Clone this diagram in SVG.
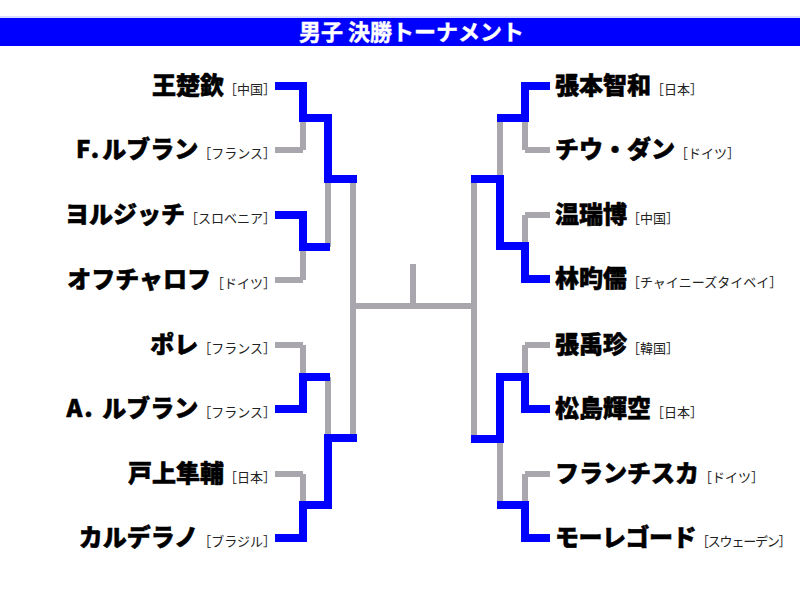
<svg xmlns="http://www.w3.org/2000/svg" width="800" height="600" viewBox="0 0 800 600">
<style>
.nm{font-family:"Noto Sans CJK JP","Noto Sans CJK SC",sans-serif;font-weight:900;font-size:24px;fill:#000;stroke:#000;stroke-width:0.55px;stroke-linejoin:round}
.ct{font-family:"Noto Sans CJK JP","Noto Sans CJK SC",sans-serif;font-weight:400;font-size:13px;fill:#222;stroke:none}
.l{text-anchor:end}
.g{fill:none;stroke:#a9a6ae;stroke-width:6}
.b{fill:none;stroke:#0000ff;stroke-width:8;stroke-linejoin:miter}
.title{font-family:"Noto Sans CJK JP","Noto Sans CJK SC",sans-serif;font-weight:700;font-size:22px;fill:#fff;stroke:#fff;stroke-width:0.4px}
</style>
<rect x="0" y="0" width="800" height="600" fill="#fff"/>
<g id="header">
<rect x="0" y="16.5" width="800" height="1" fill="#b8bcff"/>
<rect x="0" y="18" width="800" height="28" fill="#0000ff"/>
<text class="title" x="299" y="40">男子 決勝トーナメント</text>
</g>
<g id="connectors">
<path class="g" d="M275,86H303M275,150H303M275,215H303M275,280H303M275,345H303M275,409H303M275,474H303M275,538H303"/>
<path class="g" d="M303,86V150M303,215V280M303,345V409M303,474V538"/>
<path class="g" d="M303,118H328M303,247H328M303,377H328M303,505H328"/>
<path class="g" d="M328,118V247M328,377V505M328,179H353M328,438H353M353,179V438"/>
<path class="g" d="M353,306H474M413,264V306"/>
<path class="g" d="M550,86H525M550,150H525M550,215H525M550,279H525M550,345H525M550,409H525M550,474H525M550,538H525"/>
<path class="g" d="M525,86V150M525,215V279M525,345V409M525,474V538"/>
<path class="g" d="M525,118H500M525,246H500M525,377H500M525,505H500"/>
<path class="g" d="M500,118V246M500,377V505M500,179H474M500,439H474M474,179V439"/>
<path class="b" d="M275,86H303V118H328V179H357"/>
<path class="b" d="M275,215H303V247H330"/>
<path class="b" d="M275,409H303V377H330"/>
<path class="b" d="M275,538H303V505H328V438H357"/>
<path class="b" d="M550,86H525V118H497"/>
<path class="b" d="M550,279H525V246H500V179H471"/>
<path class="b" d="M550,409H525V377H500V439H471"/>
<path class="b" d="M550,538H525V505H497"/>
</g>
<g id="p-wang"><text class="l" x="276" y="94"><tspan class="nm">王楚欽</tspan><tspan class="ct">［中国］</tspan></text></g>
<g id="p-flebrun"><text class="l" x="276" y="158"><tspan class="nm" letter-spacing="3">F</tspan><tspan class="nm" letter-spacing="3">.</tspan><tspan class="nm">ルブラン</tspan><tspan class="ct">［フランス］</tspan></text></g>
<g id="p-jorgic"><text class="l" x="276" y="223"><tspan class="nm">ヨルジッチ</tspan><tspan class="ct">［スロベニア］</tspan></text></g>
<g id="p-ovtcharov"><text class="l" x="276" y="288"><tspan class="nm">オフチャロフ</tspan><tspan class="ct">［ドイツ］</tspan></text></g>
<g id="p-poret"><text class="l" x="276" y="353"><tspan class="nm">ポレ</tspan><tspan class="ct">［フランス］</tspan></text></g>
<g id="p-alebrun"><text class="l" x="276" y="417"><tspan class="nm" letter-spacing="2">A. </tspan><tspan class="nm">ルブラン</tspan><tspan class="ct">［フランス］</tspan></text></g>
<g id="p-togami"><text class="l" x="276" y="482"><tspan class="nm">戸上隼輔</tspan><tspan class="ct">［日本］</tspan></text></g>
<g id="p-calderano"><text class="l" x="276" y="546"><tspan class="nm">カルデラノ</tspan><tspan class="ct">［ブラジル］</tspan></text></g>
<g id="p-harimoto"><text x="555" y="94"><tspan class="nm">張本智和</tspan><tspan class="ct">［日本］</tspan></text></g>
<g id="p-qiu"><text x="555" y="158"><tspan class="nm">チウ・ダン</tspan><tspan class="ct">［ドイツ］</tspan></text></g>
<g id="p-wen"><text x="555" y="223"><tspan class="nm">温瑞博</tspan><tspan class="ct">［中国］</tspan></text></g>
<g id="p-lin"><text x="555" y="287"><tspan class="nm">林昀儒</tspan><tspan class="ct">［チャイニーズタイベイ］</tspan></text></g>
<g id="p-jang"><text x="555" y="353"><tspan class="nm">張禹珍</tspan><tspan class="ct">［韓国］</tspan></text></g>
<g id="p-matsushima"><text x="555" y="417"><tspan class="nm">松島輝空</tspan><tspan class="ct">［日本］</tspan></text></g>
<g id="p-franziska"><text x="555" y="482"><tspan class="nm">フランチスカ</tspan><tspan class="ct">［ドイツ］</tspan></text></g>
<g id="p-moregard"><text x="555" y="546"><tspan class="nm" letter-spacing="-0.5">モーレゴード</tspan><tspan class="ct" letter-spacing="-1.2">［スウェーデン］</tspan></text></g>
</svg>
